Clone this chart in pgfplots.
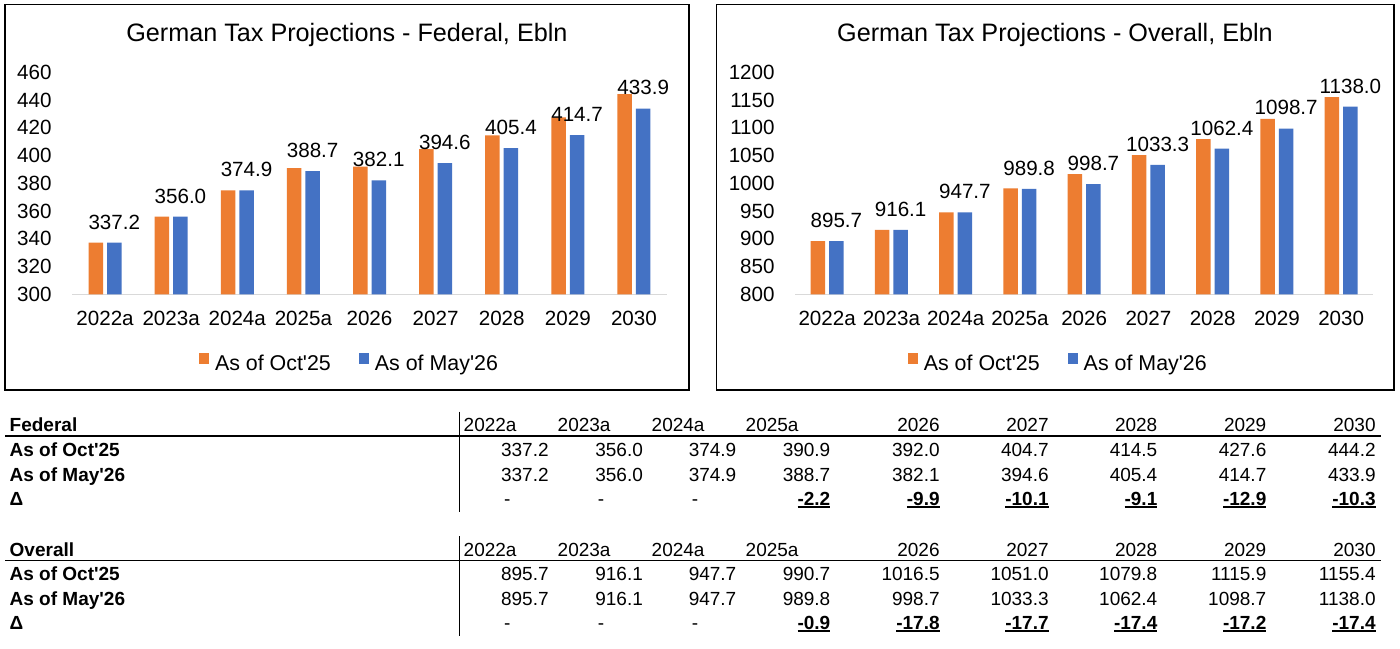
\documentclass[border=0pt]{standalone}
\usepackage{pgfplots}
\usepackage{pgfplotstable}
\pgfplotsset{compat=1.18}
\usepackage{fontspec}
\setmainfont{Liberation Sans}[Ligatures=TeXOff]

\definecolor{octc}{HTML}{ED7D31}
\definecolor{mayc}{HTML}{4472C4}
\definecolor{basec}{HTML}{D9D9D9}

% Federal tax revenue, EUR bn
\pgfplotstableread{
idx oct may
0 337.2 337.2
1 356.0 356.0
2 374.9 374.9
3 390.9 388.7
4 392.0 382.1
5 404.7 394.6
6 414.5 405.4
7 427.6 414.7
8 444.2 433.9
}\federal
% Overall tax revenue, EUR bn
\pgfplotstableread{
idx oct may
0 895.7 895.7
1 916.1 916.1
2 947.7 947.7
3 990.7 989.8
4 1016.5 998.7
5 1051.0 1033.3
6 1079.8 1062.4
7 1115.9 1098.7
8 1155.4 1138.0
}\overall

\newcommand\chartfont{\fontsize{10.3}{12}\selectfont}
\newcommand\legfont{\fontsize{10.7}{12}\selectfont}
\newcommand\tabfont{\fontsize{9.5}{11}\selectfont}
\newcommand\ul[1]{\setbox0\hbox{#1}\rlap{\rule[-1.25pt]{\wd0}{1pt}}\box0}

\pgfplotsset{
  taxchart/.style={
    scale only axis,
    anchor=south west,
    height=111pt,
    ybar=2pt, bar width=7.25pt,
    enlargelimits=false,
    xmin=-0.5, xmax=8.5,
    xtick={0,...,8},
    xticklabels={2022a,2023a,2024a,2025a,2026,2027,2028,2029,2030},
    axis x line*=bottom, axis y line*=left,
    x axis line style={draw=basec, line width=0.75pt, -},
    y axis line style={draw=none},
    major tick length=0pt,
    tick style={draw=none},
    /pgf/number format/assume math mode=true,
    /pgf/number format/1000 sep={},
    tick label style={font=\chartfont, inner sep=0pt},
    xticklabel style={anchor=north, yshift=-8pt},
    yticklabel style={anchor=east, xshift=-10pt},
    title style={font=\fontsize{12.6}{15}\selectfont, anchor=base, inner sep=0pt, yshift=9.3pt},
    legend style={draw=none, fill=none, legend columns=-1, font=\legfont,
      inner sep=0pt, anchor=center,
      /tikz/every odd column/.style={column sep=0.8pt},
      /tikz/every even column/.style={column sep=12pt}},
    every node near coord/.append style={font=\chartfont, inner sep=0pt, yshift=6.5pt, text=black, anchor=south},
  },
  octbars/.style={fill=octc, draw=none,
    legend image code/.code={\fill[octc] (0pt,0pt) rectangle (5.2pt,5.6pt);}},
  maybars/.style={fill=mayc, draw=none,
    legend image code/.code={\fill[mayc] (0pt,0pt) rectangle (5.2pt,5.6pt);},
    nodes near coords={\pgfmathprintnumber[fixed, fixed zerofill, precision=1, 1000 sep={}]{\pgfplotspointmeta}}},
}

\begin{document}
\begin{tikzpicture}
\useasboundingbox (0pt,0pt) rectangle (700pt,-324pt);
\fill[white] (0pt,0pt) rectangle (700pt,-324pt);

% chart frames
\draw[line width=0.8pt] (2.5pt,-2.3pt) rectangle (344.5pt,-195pt);
\draw[line width=0.8pt] (358.2pt,-2.3pt) rectangle (697.1pt,-195pt);

% Federal chart
\begin{axis}[taxchart,
  at={(36pt,-147.15pt)}, width=297.5pt,
  ymin=300, ymax=460, ytick={300,320,...,460},
  title={German Tax Projections - Federal, Ebln},
  title style={at={(0.462,1)}},
  legend style={at={(0.468,-0.3135)}},
]
\addplot[octbars] table[x=idx, y=oct] {\federal};
\addplot[maybars] table[x=idx, y=may] {\federal};
\legend{As of Oct'25, As of May'26}
\end{axis}

% Overall chart
\begin{axis}[taxchart,
  at={(397.5pt,-147.15pt)}, width=289.15pt,
  ymin=800, ymax=1200, ytick={800,850,...,1200},
  title={German Tax Projections - Overall, Ebln},
  title style={at={(0.4496,1)}},
  legend style={at={(0.457,-0.3135)}},
]
\addplot[octbars] table[x=idx, y=oct] {\overall};
\addplot[maybars] table[x=idx, y=may] {\overall};
\legend{As of Oct'25, As of May'26}
\end{axis}

% summary tables
\begin{scope}[every node/.style={inner sep=0pt, font=\tabfont}]
  \foreach \yh/\title in {-215.85/Federal, -278/Overall} {
    \node[anchor=base west, font=\tabfont\bfseries] at (4.65pt,\yh pt) {\title};
    \foreach \x/\yr in {231.65/2022a, 278.65/2023a, 325.65/2024a, 372.65/2025a}
      \node[anchor=base west] at (\x pt,\yh pt) {\yr};
    \foreach \x/\yr in {470/2026, 524.5/2027, 578.85/2028, 633.35/2029, 688/2030}
      \node[anchor=base east] at (\x pt,\yh pt) {\yr};
    \node[anchor=base west, font=\tabfont\bfseries] at (4.65pt,\yh pt-12.15pt) {As of Oct'25};
    \node[anchor=base west, font=\tabfont\bfseries] at (4.65pt,\yh pt-24.65pt) {As of May'26};
    \node[anchor=base west, font=\tabfont\bfseries] at (4.65pt,\yh pt-36.9pt) {Δ};
    \draw[line width=0.6pt] (2.5pt,\yh pt-2.15pt) -- (690.5pt,\yh pt-2.15pt);
    \draw[line width=0.6pt] (229.65pt,\yh pt+10pt) -- (229.65pt,\yh pt-40pt);
    \foreach \x in {253.65, 300.5, 347.5}
      \node[anchor=base] at (\x pt,\yh pt-36.9pt) {-};
  }
  % Federal rows
  \foreach \x/\v in {274.5/337.2, 321.65/356.0, 368.35/374.9, 415.35/390.9, 470/392.0, 524.5/404.7, 578.85/414.5, 633.35/427.6, 688/444.2}
    \node[anchor=base east] at (\x pt,-228pt) {\v};
  \foreach \x/\v in {274.5/337.2, 321.65/356.0, 368.35/374.9, 415.35/388.7, 470/382.1, 524.5/394.6, 578.85/405.4, 633.35/414.7, 688/433.9}
    \node[anchor=base east] at (\x pt,-240.5pt) {\v};
  \foreach \x/\v in {415.35/-2.2, 470/-9.9, 524.5/-10.1, 578.85/-9.1, 633.35/-12.9, 688/-10.3}
    \node[anchor=base east, font=\tabfont\bfseries] at (\x pt,-252.75pt) {\ul{\v}};
  % Overall rows
  \foreach \x/\v in {274.5/895.7, 321.65/916.1, 368.35/947.7, 415.35/990.7, 470/1016.5, 524.5/1051.0, 578.85/1079.8, 633.35/1115.9, 688/1155.4}
    \node[anchor=base east] at (\x pt,-290.15pt) {\v};
  \foreach \x/\v in {274.5/895.7, 321.65/916.1, 368.35/947.7, 415.35/989.8, 470/998.7, 524.5/1033.3, 578.85/1062.4, 633.35/1098.7, 688/1138.0}
    \node[anchor=base east] at (\x pt,-302.65pt) {\v};
  \foreach \x/\v in {415.35/-0.9, 470/-17.8, 524.5/-17.7, 578.85/-17.4, 633.35/-17.2, 688/-17.4}
    \node[anchor=base east, font=\tabfont\bfseries] at (\x pt,-314.9pt) {\ul{\v}};
\end{scope}
\end{tikzpicture}
\end{document}
